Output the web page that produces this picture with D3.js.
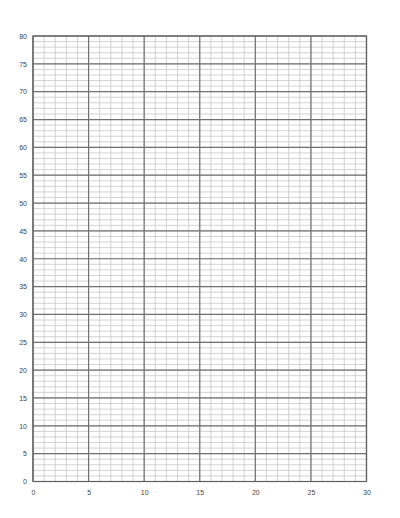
<!DOCTYPE html>
<html>
<head>
<meta charset="utf-8">
<script src="https://cdn.jsdelivr.net/npm/d3@7"></script>
<style>
  body { margin: 0; background: #fff; }
</style>
</head>
<body>
<svg id="chart" width="400" height="518"></svg>
<script>
// axis ranges and tick labels
let xDomain = [0, 30];
let yDomain = [0, 80];
let xMajorTicks = [0, 5, 10, 15, 20, 25, 30];
let yMajorTicks = [0, 5, 10, 15, 20, 25, 30, 35, 40, 45, 50, 55, 60, 65, 70, 75, 80];
let xMinorTicks = d3.range(0, 31, 1);
let yMinorTicks = d3.range(0, 81, 1);

let margin = { left: 33, right: 33.5, top: 36, bottom: 36.5 };
let W = 400, H = 518;

let svg = d3.select('#chart');

let x = d3.scaleLinear().domain(xDomain).range([margin.left, W - margin.right]);
let y = d3.scaleLinear().domain(yDomain).range([H - margin.bottom, margin.top]);

//minor grid
let g_minor = svg.append('g').attr('id', 'minor');
g_minor.selectAll('line.vx').data(xMinorTicks).enter().append('line')
  .attr('x1', d => x(d)).attr('x2', d => x(d))
  .attr('y1', y(yDomain[0])).attr('y2', y(yDomain[1]))
  .attr('stroke', '#c8c8c8').attr('stroke-width', 0.8);
g_minor.selectAll('line.hy').data(yMinorTicks).enter().append('line')
  .attr('y1', d => y(d)).attr('y2', d => y(d))
  .attr('x1', x(xDomain[0])).attr('x2', x(xDomain[1]))
  .attr('stroke', '#c8c8c8').attr('stroke-width', 0.8);

//major grid
let g_major = svg.append('g').attr('id', 'major');
g_major.selectAll('line.vx').data(xMajorTicks).enter().append('line')
  .attr('x1', d => x(d)).attr('x2', d => x(d))
  .attr('y1', y(yDomain[0])).attr('y2', y(yDomain[1]))
  .attr('stroke', '#707070').attr('stroke-width', 1.2);
g_major.selectAll('line.hy').data(yMajorTicks).enter().append('line')
  .attr('y1', d => y(d)).attr('y2', d => y(d))
  .attr('x1', x(xDomain[0])).attr('x2', x(xDomain[1]))
  .attr('stroke', '#707070').attr('stroke-width', 1.2);

//frame
svg.append('rect')
  .attr('x', x(xDomain[0])).attr('y', y(yDomain[1]))
  .attr('width', x(xDomain[1]) - x(xDomain[0]))
  .attr('height', y(yDomain[0]) - y(yDomain[1]))
  .attr('fill', 'none').attr('stroke', '#606060').attr('stroke-width', 1.2);

//axes, labels only
let xAxis = d3.axisBottom(x).tickValues(xMajorTicks).tickSize(0).tickPadding(9).tickFormat(d3.format('d'));
let yAxis = d3.axisLeft(y).tickValues(yMajorTicks).tickSize(0).tickPadding(6).tickFormat(d3.format('d'));

svg.append('g').attr('transform', 'translate(0,' + y(yDomain[0]) + ')').call(xAxis)
  .call(g => g.select('.domain').remove());
svg.append('g').attr('transform', 'translate(' + x(xDomain[0]) + ',0)').call(yAxis)
  .call(g => g.select('.domain').remove());

svg.selectAll('.tick text')
  .attr('font-family', '"Liberation Sans", Arial, sans-serif')
  .attr('font-size', 7)
  .attr('fill', '#444');
</script>
</body>
</html>
